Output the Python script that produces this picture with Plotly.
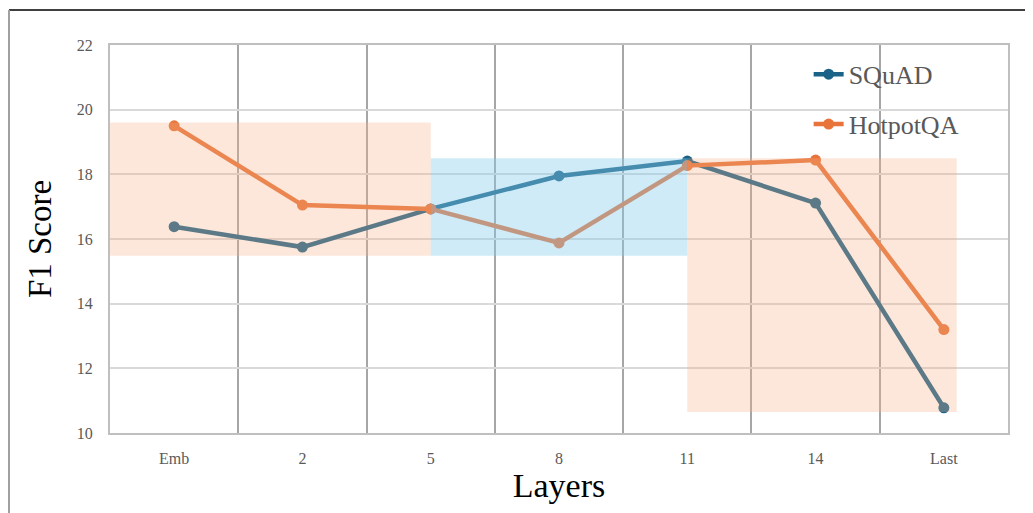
import plotly.graph_objects as go

layers = ["Emb", "2", "5", "8", "11", "14", "Last"]
squad = [16.38, 15.75, 16.93, 17.95, 18.41, 17.11, 10.78]
hotpot = [19.5, 17.05, 16.93, 15.88, 18.27, 18.44, 13.2]

# highlighted regions: (x start, x end, y low, y high, color)
regions_x0 = [-0.5, 2, 4]
regions_x1 = [2, 4, 6.1]
regions_y0 = [15.48, 15.48, 10.65]
regions_y1 = [19.6, 18.5, 18.5]
regions_col = ["rgba(244,177,131,0.3)", "rgba(135,206,235,0.4)", "rgba(244,177,131,0.3)"]

xs = list(range(len(layers)))
serif = "Liberation Serif, Times New Roman, serif"

fig = go.Figure()
fig.add_trace(go.Scatter(x=xs, y=squad, mode="lines+markers", name="SQuAD",
                         legendgroup="a",
                         line=dict(color="#1B6288", width=4.5),
                         marker=dict(size=11, color="#1B6288")))
fig.add_trace(go.Scatter(x=xs, y=hotpot, mode="lines+markers", name="HotpotQA",
                         legendgroup="b",
                         line=dict(color="#E8743B", width=4.5),
                         marker=dict(size=11, color="#E8743B")))

for x0, x1, y0, y1, c in zip(regions_x0, regions_x1, regions_y0, regions_y1, regions_col):
    fig.add_shape(type="rect", x0=x0, x1=x1, y0=y0, y1=y1, xref="x", yref="y",
                  fillcolor=c, line=dict(width=0), layer="above")

# outer border lines of the figure
fig.add_shape(type="line", xref="paper", yref="paper", x0=-101/898, x1=925/898,
              y0=423/388, y1=423/388, line=dict(color="#404040", width=2))
fig.add_shape(type="line", xref="paper", yref="paper", x0=-101/898, x1=-101/898,
              y0=423/388, y1=-80/388, line=dict(color="#A0A0A0", width=2))

fig.update_layout(
    width=1025, height=505,
    margin=dict(l=102, r=25, t=37, b=80, autoexpand=False),
    paper_bgcolor="white", plot_bgcolor="white",
    showlegend=True,
    legend=dict(x=0.778, y=0.985, xanchor="left", yanchor="top",
                bgcolor="rgba(0,0,0,0)", traceorder="grouped", tracegroupgap=13,
                font=dict(family=serif, size=26, color="#595959")),
    xaxis=dict(range=[-0.5, len(layers) - 0.5], tickvals=xs, ticktext=layers,
               showgrid=False, zeroline=False, ticks="", ticklabelstandoff=10,
               automargin=False,
               showline=True, mirror=True, linecolor="#BFBFBF", linewidth=2,
               tickfont=dict(family=serif, size=16, color="#595959"),
               minor=dict(tickvals=[i + 0.5 for i in xs[:-1]], showgrid=True,
                          gridcolor="#A6A6A6", gridwidth=2, ticks=""),
               title=dict(text="Layers", font=dict(family=serif, size=34, color="black"),
                          standoff=4)),
    yaxis=dict(range=[10, 22], dtick=2, showgrid=True, gridcolor="#D9D9D9", gridwidth=2,
               zeroline=False, ticks="", ticklabelstandoff=12, automargin=False,
               showline=True, mirror=True, linecolor="#BFBFBF", linewidth=2,
               tickfont=dict(family=serif, size=16, color="#595959"),
               title=dict(text="F1 Score", font=dict(family=serif, size=33, color="black"),
                          standoff=15)),
)

fig.write_html("out.html")
